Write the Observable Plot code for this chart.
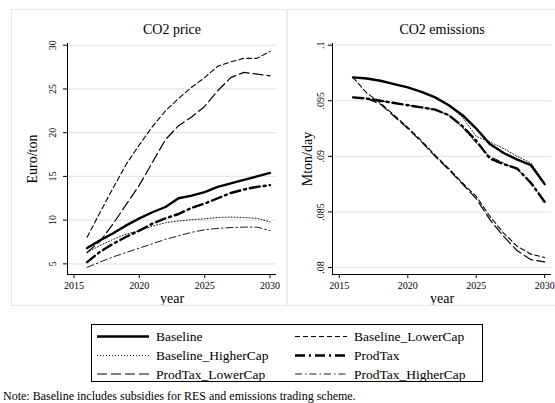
<!DOCTYPE html>
<html><head><meta charset="utf-8">
<script src="https://cdn.jsdelivr.net/npm/d3@7"></script>
<script src="https://cdn.jsdelivr.net/npm/@observablehq/plot@0.6"></script>
<style>
body{margin:0;background:#fff;}
#wrap{position:relative;width:555px;height:403px;overflow:hidden;background:#fff;font-family:"Liberation Serif","Times New Roman",serif;}
#left,#right,#overlay{position:absolute;top:0}
#left{left:0}
#right{left:282px}
#overlay{left:0;pointer-events:none}
</style>
</head><body>
<div id="wrap"><div id="left"></div><div id="right"></div>
<svg id="overlay" width="555" height="403"></svg></div>
<script>
const years = [2016,2017,2018,2019,2020,2021,2022,2023,2024,2025,2026,2027,2028,2029,2030];
const seriesNames = ["Baseline","Baseline_LowerCap","Baseline_HigherCap","ProdTax","ProdTax_LowerCap","ProdTax_HigherCap"];

// CO2 price (Euro/ton)
const priceBaseline          = [6.8,7.7,8.5,9.4,10.2,10.9,11.5,12.5,12.8,13.2,13.8,14.2,14.6,15.0,15.4];
const priceBaselineLowerCap  = [8.05,10.9,13.7,16.4,18.6,20.7,22.5,23.9,25.2,26.3,27.6,28.1,28.5,28.5,29.3];
const priceBaselineHigherCap = [6.3,7.1,7.8,8.4,8.8,9.3,9.7,9.9,10.05,10.15,10.3,10.35,10.3,10.2,9.8];
const priceProdTax           = [5.2,6.4,7.3,8.1,8.8,9.6,10.2,10.7,11.4,11.9,12.5,13.1,13.5,13.8,14.0];
const priceProdTaxLowerCap   = [6.3,7.6,9.6,11.8,14.0,16.6,19.2,20.8,21.8,23.0,24.8,26.3,26.9,26.7,26.5];
const priceProdTaxHigherCap  = [4.6,5.2,5.8,6.3,6.8,7.3,7.8,8.2,8.6,8.9,9.05,9.15,9.2,9.2,8.8];

// CO2 emissions (Mton/day)
const emBaseline          = [.0971,.0970,.0968,.0965,.0962,.0958,.0953,.0946,.0937,.0925,.0911,.0903,.0897,.0892,.0875];
const emBaselineLowerCap  = [.0971,.0957,.0948,.0937,.0926,.0914,.0901,.0889,.0876,.0864,.0846,.0831,.0819,.0812,.0809];
const emBaselineHigherCap = [.0971,.0970,.0968,.0965,.0962,.0958,.0953,.0946,.0935,.0918,.0913,.0907,.0900,.0894,.0876];
const emProdTax           = [.0953,.0952,.0950,.0948,.0946,.0944,.0942,.0937,.0927,.0914,.0898,.0893,.0889,.0876,.0859];
const emProdTaxLowerCap   = [.0953,.0952,.0947,.0936,.0925,.0913,.0900,.0888,.0875,.0862,.0843,.0828,.0815,.0807,.0805];
const emProdTaxHigherCap  = [.0953,.0952,.0950,.0948,.0946,.0944,.0942,.0937,.0926,.0912,.0900,.0894,.0888,.0877,.0860];

const xTicks = [2015,2020,2025,2030];
const priceTicks = [5,10,15,20,25,30];
const priceTickLabels = ["5","10","15","20","25","30"];
const emTicks = [.08,.085,.09,.095,.1];
const emTickLabels = [".08",".085",".09",".095",".1"];

const priceSeries = [priceBaseline,priceBaselineLowerCap,priceBaselineHigherCap,priceProdTax,priceProdTaxLowerCap,priceProdTaxHigherCap];
const emSeries = [emBaseline,emBaselineLowerCap,emBaselineHigherCap,emProdTax,emProdTaxLowerCap,emProdTaxHigherCap];

const styles = {
  Baseline:          {w:2.4, dash:null},
  Baseline_LowerCap: {w:1.1, dash:"5,3"},
  Baseline_HigherCap:{w:0.9, dash:"1,2"},
  ProdTax:           {w:2.4, dash:"10,4,2,4"},
  ProdTax_LowerCap:  {w:1.2, dash:"10,4"},
  ProdTax_HigherCap: {w:0.9, dash:"7,3,1.5,3"}
};

function toRows(seriesArrays){
  const rows = [];
  seriesArrays.forEach((arr, k) => arr.forEach((v, i) => rows.push({series: seriesNames[k], year: years[i], value: v})));
  return rows;
}

const font = "'Liberation Serif','Times New Roman',serif";

function panel({rows, yDomain, ticks, tickLabels, title, ylab, width, marginLeft, marginRight, labDx, tickDx}){
  const lineMarks = seriesNames.map(name => Plot.line(rows.filter(r => r.series === name), {
    x: "year", y: "value", stroke: "black", strokeWidth: styles[name].w,
    strokeDasharray: styles[name].dash, strokeLinejoin: "round"
  }));
  return Plot.plot({
    width, height: 306, marginLeft, marginRight, marginTop: 43, marginBottom: 32,
    x: {domain: [2014.5, 2030.5]},
    y: {domain: yDomain},
    style: {fontFamily: font, fontSize: "10px", background: "transparent", color: "black"},
    marks: [
      Plot.gridY(ticks, {stroke: "#e6e6e6", strokeOpacity: 1, strokeWidth: 1.2}),
      Plot.ruleX([2014.5], {stroke: "black", strokeWidth: 1}),
      Plot.ruleY([yDomain[0]], {stroke: "black", strokeWidth: 1}),
      Plot.axisX({ticks: xTicks, tickSize: 4, tickPadding: 3, tickFormat: d => String(d), label: null, fontSize: 10, fontFamily: font}),
      Plot.axisY({ticks: ticks, tickSize: 4, tickFormat: () => "", label: null}),
      Plot.text(ticks, {y: d => d, text: (d, i) => tickLabels[i], frameAnchor: "left", dx: tickDx, rotate: -90, textAnchor: "middle", lineAnchor: "middle", fontSize: 10, fontFamily: font}),
      ...lineMarks,
      Plot.text([title], {frameAnchor: "top", dy: -14, lineAnchor: "middle", fontSize: 14, fontFamily: font}),
      Plot.text(["year"], {frameAnchor: "bottom", dy: 24, lineAnchor: "middle", fontSize: 14, fontFamily: font}),
      Plot.text([ylab], {frameAnchor: "left", dx: labDx, rotate: -90, textAnchor: "middle", lineAnchor: "middle", fontSize: 14, fontFamily: font})
    ]
  });
}

document.getElementById("left").append(panel({
  rows: toRows(priceSeries), yDomain: [3.78, 30.2], ticks: priceTicks, tickLabels: priceTickLabels,
  title: "CO2 price", ylab: "Euro/ton", width: 287, marginLeft: 67, marginRight: 11, labDx: -35, tickDx: -15
}));
document.getElementById("right").append(panel({
  rows: toRows(emSeries), yDomain: [0.07937, 0.10015], ticks: emTicks, tickLabels: emTickLabels,
  title: "CO2 emissions", ylab: "Mton/day", width: 273, marginLeft: 50, marginRight: 4, labDx: -25, tickDx: -11.5
}));

// Overlay: panel frames, legend, note
const svg = d3.select("#overlay");
svg.append("rect").attr("x", 11.5).attr("y", 9.5).attr("width", 275.5).attr("height", 296)
  .attr("fill", "none").attr("stroke", "#e8e8e8");
svg.append("rect").attr("x", 287.5).attr("y", 9.5).attr("width", 300).attr("height", 296)
  .attr("fill", "none").attr("stroke", "#e8e8e8");

const lg = svg.append("g").attr("transform", "translate(91,324)");
lg.append("rect").attr("x", 0.5).attr("y", 0.5).attr("width", 391).attr("height", 57)
  .attr("fill", "white").attr("stroke", "black").attr("stroke-width", 1);
const legendOrder = ["Baseline","Baseline_LowerCap","Baseline_HigherCap","ProdTax","ProdTax_LowerCap","ProdTax_HigherCap"];
const rowY = [12.5, 31.5, 50];
legendOrder.forEach((name, i) => {
  const col = i % 2, row = Math.floor(i / 2);
  const x0 = col === 0 ? 6 : 204;
  const y = rowY[row];
  lg.append("line").attr("x1", x0).attr("x2", x0 + 52).attr("y1", y).attr("y2", y)
    .attr("stroke", "black").attr("stroke-width", styles[name].w)
    .attr("stroke-dasharray", styles[name].dash);
  lg.append("text").attr("x", x0 + 59).attr("y", y).attr("dy", "0.35em")
    .attr("font-family", font).attr("font-size", 13.5).text(name);
});

svg.append("text").attr("x", 3).attr("y", 399.5).attr("font-family", font).attr("font-size", 12)
  .text("Note: Baseline includes subsidies for RES and emissions trading scheme.");
</script>
</body></html>
